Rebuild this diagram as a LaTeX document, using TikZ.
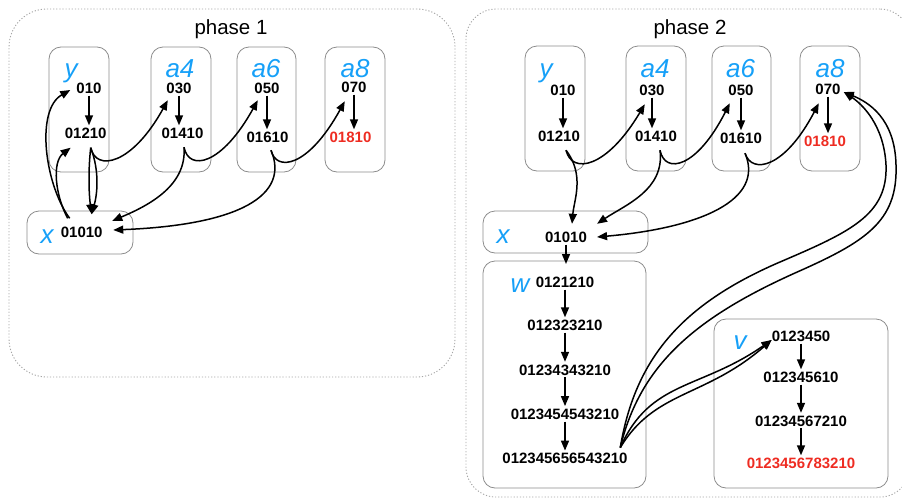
\documentclass[tikz,border=0pt]{standalone}
\usepackage{fontspec}
\setmainfont{Liberation Sans}
\usetikzlibrary{arrows.meta,calc}
\definecolor{lblblue}{RGB}{22,160,248}
\definecolor{hotred}{RGB}{238,44,34}
\definecolor{boxgray}{RGB}{140,140,140}
\definecolor{dotgray}{RGB}{165,165,165}

\begin{document}
\begin{tikzpicture}[x=1pt,y=-1pt,
  phasebox/.style={draw=dotgray, line width=0.9pt, dash pattern=on 1.2pt off 1.9pt,
                   inner sep=0pt, outer sep=0pt},
  grp/.style={draw=boxgray, line width=0.8pt, rounded corners=12pt, inner sep=0pt, outer sep=0pt},
  num/.style={font=\bfseries\fontsize{15}{15}\selectfont, text height=11pt, text depth=0pt, inner sep=2pt},
  hot/.style={num, text=hotred},
  lbl/.style={font=\itshape\fontsize{26}{26}\selectfont, text=lblblue, anchor=base, inner sep=0pt},
  ttl/.style={font=\fontsize{20.5}{20.5}\selectfont, anchor=base, inner sep=0pt},
  conn/.style={line width=1.5pt, -{Triangle[length=10pt,width=8pt]}}]

\useasboundingbox (0,0) rectangle (902,498);
\clip (0,0) rectangle (902,498);

% ---------- phase containers ----------
\node[phasebox, rounded corners=38pt, minimum width=446pt, minimum height=368pt] (ph1) at (232,193) {};
\node[phasebox, rounded corners=30pt, minimum width=444pt, minimum height=488pt] (ph2) at (688,253) {};
\node[ttl] (t1) at (231,34) {phase 1};
\node[ttl] (t2) at (690,34) {phase 2};

% ---------- phase 1 groups ----------
\node[grp, minimum width=60pt, minimum height=125pt] (p1yb)  at (79,109.5) {};
\node[grp, minimum width=60pt, minimum height=125pt] (p1a4b) at (181,109.5) {};
\node[grp, minimum width=59pt, minimum height=125pt] (p1a6b) at (266.5,109.5) {};
\node[grp, minimum width=60pt, minimum height=125pt] (p1a8b) at (355,109.5) {};
\node[grp, minimum width=106pt, minimum height=43pt] (p1xb) at (80,232.5) {};

\node[lbl] (p1yl)  at (71,77)  {y};
\node[lbl] (p1a4l) at (180,77) {a4};
\node[lbl] (p1a6l) at (266,77) {a6};
\node[lbl] (p1a8l) at (355,77) {a8};
\node[lbl] (p1xl)  at (47,243) {x};

\node[num] (p1y0)  at (89,88)     {010};
\node[num] (p1y1)  at (85.7,133)  {01210};
\node[num] (p1a40) at (179,88)    {030};
\node[num] (p1a41) at (182.5,133) {01410};
\node[num] (p1a60) at (267,88)    {050};
\node[num] (p1a61) at (267.5,137) {01610};
\node[num] (p1a80) at (354,87)    {070};
\node[hot] (p1a81) at (350.5,137) {01810};
\node[num] (p1x)   at (81.7,232)  {01010};

% ---------- phase 2 groups ----------
\node[grp, minimum width=60pt, minimum height=125pt] (p2yb)  at (555,108.5) {};
\node[grp, minimum width=60pt, minimum height=125pt] (p2a4b) at (656,108.5) {};
\node[grp, minimum width=59pt, minimum height=125pt] (p2a6b) at (741.5,108.5) {};
\node[grp, minimum width=60pt, minimum height=125pt] (p2a8b) at (830,108.5) {};
\node[grp, minimum width=165pt, minimum height=42pt] (p2xb) at (565.5,232) {};
\node[grp, minimum width=163pt, minimum height=227pt] (wb) at (564.5,374.5) {};
\node[grp, minimum width=174pt, minimum height=169pt] (vb) at (801,403.5) {};

\node[lbl] (p2yl)  at (546,77)   {y};
\node[lbl] (p2a4l) at (655,77)   {a4};
\node[lbl] (p2a6l) at (740.5,77) {a6};
\node[lbl] (p2a8l) at (830,77)   {a8};
\node[lbl] (p2xl)  at (503,243)  {x};
\node[lbl] (wl)    at (520,292)  {w};
\node[lbl] (vl)    at (740,349)  {v};

\node[num] (p2y0)  at (563,90)  {010};
\node[num] (p2y1)  at (559,136) {01210};
\node[num] (p2a40) at (652,90)  {030};
\node[num] (p2a41) at (656,136) {01410};
\node[num] (p2a60) at (741,90)  {050};
\node[num] (p2a61) at (741,138) {01610};
\node[num] (p2a80) at (828,89)  {070};
\node[hot] (p2a81) at (825,141) {01810};
\node[num] (p2x)   at (566,237) {01010};

\node[num] (w1) at (565,282)   {0121210};
\node[num] (w2) at (565,325)   {012323210};
\node[num] (w3) at (565,369.5) {01234343210};
\node[num] (w4) at (565,413.8) {0123454543210};
\node[num] (w5) at (565,458.3) {012345656543210};

\node[num] (v1) at (801,336)   {0123450};
\node[num] (v2) at (801,377)   {012345610};
\node[num] (v3) at (801,420.5) {01234567210};
\node[hot] (v4) at (801,463)   {0123456783210};

% ---------- phase 1 connectors ----------
\foreach \a/\b in {p1y0/p1y1, p1a40/p1a41, p1a60/p1a61, p1a80/p1a81}
  \draw[conn] (\a.south) -- (\a.south |- \b.north);

\draw[conn] ($(p1x.north)+(-12,-6)$) .. controls (45,185) and (35,110) .. ($(p1y0.west)+(-4,2)$);
\draw[conn] ($(p1x.north)+(-14,-6)$) .. controls (55,195) and (52,162) .. ($(p1y1.south west)+(8,7)$);
\draw[conn] ($(p1y1.south)+(5,7)$) .. controls (100,172) and (97,195) .. ($(p1x.north)+(10,-10)$);
\draw[conn] ($(p1y1.south)+(5,7)$) .. controls (88,172) and (89,195) .. ($(p1x.north)+(10,-10)$);
\draw[conn] ($(p1y1.south)+(5,7)$) .. controls (96,172) and (132,165) .. ($(p1a40.south west)+(3.5,4.5)$);
\draw[conn] ($(p1a41.south)+(1.5,6.5)$) .. controls (189,172) and (222,165) .. ($(p1a60.south west)+(5.5,4.5)$);
\draw[conn] ($(p1a41.south)+(1.5,6.5)$) .. controls (187,185) and (150,205) .. ($(p1x.north east)+(7.5,-3.5)$);
\draw[conn] ($(p1a61.south)+(3.5,5.5)$) .. controls (276,172) and (308,168) .. ($(p1a80.south west)+(5.5,6.5)$);
\draw[conn] ($(p1a61.south)+(3.5,5.5)$) .. controls (290,195) and (240,225) .. ($(p1x.east)+(8.5,-2)$);

% ---------- phase 2 connectors ----------
\foreach \a/\b in {p2y0/p2y1, p2a40/p2a41, p2a60/p2a61, p2a80/p2a81,
                   w1/w2, w2/w3, w3/w4, w4/w5, v1/v2, v2/v3, v3/v4}
  \draw[conn] (\a.south) -- (\a.south |- \b.north);
\draw[conn, shorten >=-3pt] (p2x.south) -- (p2x.south |- wb.north);

\draw[conn] ($(p2y1.south)+(7,6.5)$) .. controls (572,175) and (607,168) .. ($(p2a40.south west)+(7.5,6.5)$);
\draw[conn] ($(p2y1.south)+(7,6.5)$) .. controls (585,175) and (574,200) .. ($(p2x.north)+(6,-5.5)$);
\draw[conn] ($(p2a41.south)+(4,6.5)$) .. controls (665,175) and (697,168) .. ($(p2a60.south west)+(3.5,5.5)$);
\draw[conn] ($(p2a41.south)+(4,6.5)$) .. controls (665,190) and (625,205) .. ($(p2x.north east)+(8,-5.5)$);
\draw[conn] ($(p2a61.south)+(4,7.5)$) .. controls (752,175) and (785,168) .. ($(p2a80.south west)+(5.5,6.5)$);
\draw[conn] ($(p2a61.south)+(4,7.5)$) .. controls (765,200) and (700,228) .. ($(p2x.east)+(8,0)$);

% w5 feeds the a8 head and the v head, each along a doubled stroke
\coordinate (ws) at ($(w5.north east)+(-9.5,-3)$);
\draw[conn] (ws) .. controls (635,360) and (680,305) .. (780,262)
                 .. controls (850,232) and (888,215) .. (886,165)
                 .. controls (884,125) and (862,104) .. ($(p2a80.east)+(1,3)$);
\draw[conn] (ws) .. controls (640,365) and (695,318) .. (795,273)
                 .. controls (865,242) and (898,222) .. (896,165)
                 .. controls (895,118) and (868,102) .. ($(p2a80.east)+(1,3)$);
\draw[conn] (ws) .. controls (650,380) and (700,390) .. ($(v1.west)+(2,4)$);
\draw[conn] (ws) .. controls (655,390) and (705,398) .. ($(v1.west)+(2,4)$);

\end{tikzpicture}
\end{document}
